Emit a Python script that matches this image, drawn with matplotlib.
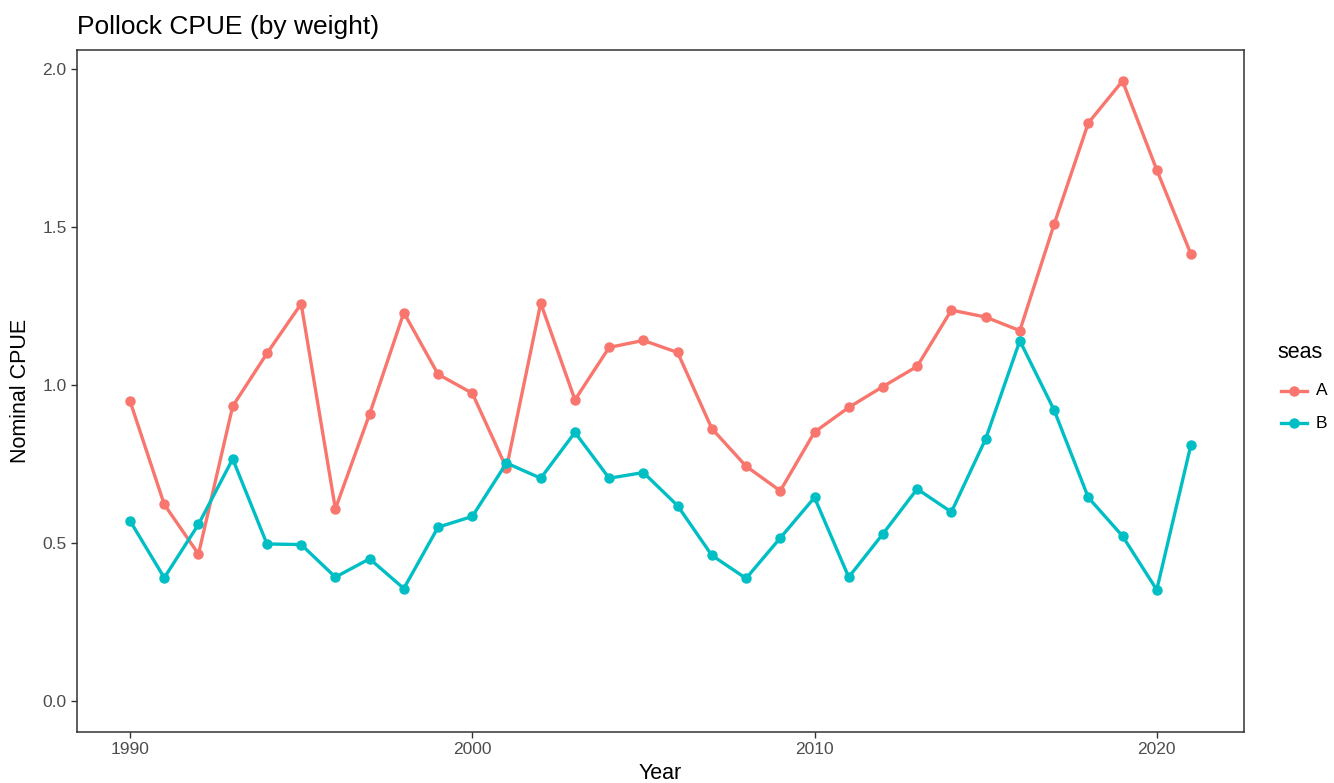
import matplotlib
matplotlib.use("Agg")
import matplotlib.pyplot as plt
from matplotlib.lines import Line2D

plt.rcParams['font.family'] = ['Liberation Sans', 'DejaVu Sans']

# Nominal CPUE by season
years = list(range(1990, 2022))
cpue_a = [0.949, 0.622, 0.465, 0.933, 1.100, 1.257, 0.608, 0.908, 1.229, 1.034,
          0.974, 0.737, 1.259, 0.953, 1.119, 1.141, 1.103, 0.862, 0.743, 0.665,
          0.851, 0.929, 0.995, 1.059, 1.237, 1.215, 1.172, 1.508, 1.829, 1.962,
          1.681, 1.414]
cpue_b = [0.570, 0.390, 0.559, 0.766, 0.497, 0.495, 0.392, 0.450, 0.356, 0.550,
          0.584, 0.753, 0.705, 0.850, 0.705, 0.723, 0.618, 0.461, 0.388, 0.516,
          0.644, 0.392, 0.529, 0.671, 0.598, 0.829, 1.140, 0.921, 0.644, 0.522,
          0.352, 0.811]
seasons = ["A", "B"]
colors = ["#F8766D", "#00BFC4"]
x_ticks = [1990, 2000, 2010, 2020]
y_ticks = [0.0, 0.5, 1.0, 1.5, 2.0]

W, H = 1334, 783
fig = plt.figure(figsize=(W / 100, H / 100), dpi=100)
fig.patch.set_facecolor("white")

# panel placement in pixels
left, right, top, bottom = 77, 1244, 50, 732
ax = fig.add_axes([left / W, 1 - bottom / H, (right - left) / W, (bottom - top) / H])

for vals, col in zip([cpue_a, cpue_b], colors):
    ax.plot(years, vals, color=col, lw=2.4, marker="o", ms=6.5,
            solid_joinstyle="round", solid_capstyle="round", zorder=3)

# ggplot-style 5% expansion, y limits include zero
all_vals = cpue_a + cpue_b
ymin, ymax = 0.0, max(all_vals)
yr = ymax - ymin
ax.set_ylim(ymin - 0.05 * yr, ymax + 0.05 * yr)
xr = max(years) - min(years)
ax.set_xlim(min(years) - 0.05 * xr, max(years) + 0.05 * xr)

ax.set_xticks(x_ticks)
ax.set_xticklabels([str(v) for v in x_ticks])
ax.set_yticks(y_ticks)
ax.set_yticklabels([f"{v:.1f}" for v in y_ticks])

for s in ax.spines.values():
    s.set_color("#333333")
    s.set_linewidth(1.1)
ax.tick_params(axis="both", direction="out", length=4.5, width=1.0,
               color="#333333", labelcolor="#4D4D4D", labelsize=12.5, pad=3)
ax.grid(False)

# title and axis titles
fig.text(left / W, 1 - 34 / H, "Pollock CPUE (by weight)", fontsize=19,
         color="black", ha="left", va="baseline")
fig.text(660 / W, 1 - 779 / H, "Year", fontsize=15.5, color="black",
         ha="center", va="baseline")
fig.text(21 / W, 1 - 391 / H, "Nominal CPUE", fontsize=15.5, color="black",
         rotation=90, ha="center", va="center")

# legend
fig.text(1277 / W, 1 - 353 / H, "seas", fontsize=15.5, color="black",
         ha="left", va="center")
for i, (lab, col) in enumerate(zip(seasons, colors)):
    yk = 1 - (391 + 32 * i) / H
    fig.add_artist(Line2D([1281 / W, 1307 / W], [yk, yk], color=col, lw=2.4,
                          transform=fig.transFigure))
    fig.add_artist(Line2D([1294 / W], [yk], color=col, marker="o", ms=6.5,
                          lw=0, transform=fig.transFigure))
    fig.text(1316 / W, yk, lab, fontsize=12.5, color="black",
             ha="left", va="center")

fig.savefig("out.png", dpi=100, facecolor="white")
